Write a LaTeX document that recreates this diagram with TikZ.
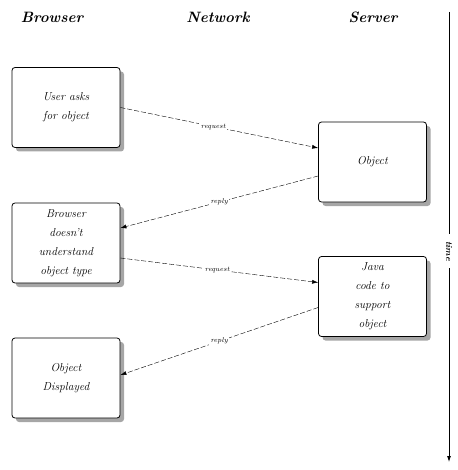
\documentclass[tikz,border=0pt]{standalone}
\usetikzlibrary{arrows.meta,shadows}
\begin{document}
\begin{tikzpicture}[x=1pt,y=-1pt,
  box/.style={draw,thick,rounded corners=3pt,fill=white,minimum width=108pt,minimum height=80pt,
    align=center,font=\itshape\fontsize{11.5}{19}\selectfont,
    drop shadow={shadow xshift=4pt,shadow yshift=-4pt,fill=black!35,opacity=1}},
  head/.style={font=\bfseries\itshape\fontsize{15}{18}\selectfont},
  msg/.style={dashed,dash pattern=on 5pt off 2pt,-{Latex[length=6pt,width=4pt]}},
  lab/.style={font=\itshape\fontsize{7}{8}\selectfont,fill=white,inner sep=1.5pt}]
\useasboundingbox (0,0) rectangle (457,470);
\node[head] (hb) at (52,17) {Browser};
\node[head] (hn) at (218,17) {Network};
\node[head] (hs) at (373,17) {Server};
\node[box] (u) at (66,107.5) {User asks\\for object};
\node[box] (o) at (372.5,162) {Object};
\node[box] (b) at (66,243) {Browser\\doesn't\\understand\\object type};
\node[box] (j) at (372.5,296.5) {Java\\code to\\support\\object};
\node[box] (d) at (66,378) {Object\\Displayed};
\draw[msg] (u.east) -- node[lab,pos=0.47]{request} ([yshift=14pt]o.west);
\draw[msg] ([yshift=-14pt]o.west) -- node[lab,pos=0.5]{reply} ([yshift=15pt]b.east);
\draw[msg] ([yshift=-15pt]b.east) -- node[lab,pos=0.49]{request} ([yshift=14pt]j.west);
\draw[msg] ([yshift=-11pt]j.west) -- node[lab,pos=0.5]{reply} ([yshift=3pt]d.east);
\coordinate (t0) at (449,12);
\coordinate (t1) at (449,462);
\node[rotate=-90,font=\bfseries\itshape\fontsize{9}{10}\selectfont,fill=white,inner xsep=7pt,inner ysep=2pt] (t) at (449,251) {time};
\draw[thick] (t0) -- (t.west);
\draw[thick,-{Latex[length=6pt,width=4pt]}] (t.east) -- (t1);
\end{tikzpicture}
\end{document}
